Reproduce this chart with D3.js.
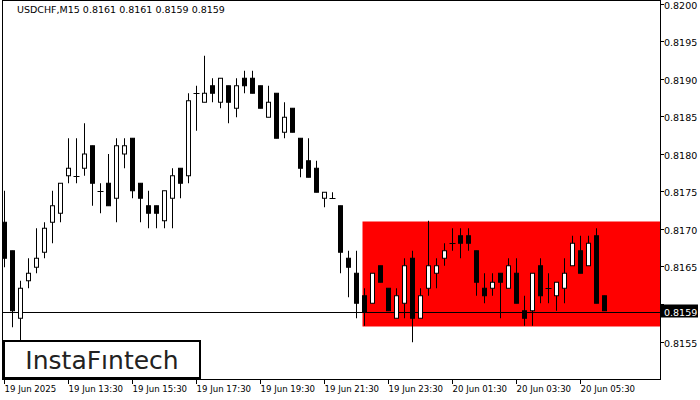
<!DOCTYPE html>
<html>
<head>
<meta charset="utf-8">
<script src="https://cdn.jsdelivr.net/npm/d3@7"></script>
<style>
  body { margin: 0; background: #fff; }
  text { font-family: "DejaVu Sans", sans-serif; }
</style>
</head>
<body>
<svg id="chart" width="700" height="400"></svg>
<script>
// candles, M15, starting 19 Jun 2025 11:30
const opens = [.81709,.81671,.81581,.81631,.81649,.81669,.81709,.81721,.81771,.81771,.81781,.81811,.81751,.81761,.81741,.81800,.81821,.81761,.81731,.81731,
  .81711,.81741,.81781,.81771,.81881,.81869,.81891,.81869,.81891,.81861,.81901,.81901,.81891,.81849,.81881,.81829,.81861,.81821,.81791,.81781,
  .81741,.81741,.81731,.81661,.81641,.81611,.81601,.81651,.81621,.81581,.81601,.81661,.81581,.81621,.81641,.81661,.81681,.81691,.81691,.81671,
  .81621,.81621,.81641,.81621,.81641,.81591,.81591,.81651,.81621,.81611,.81621,.81651,.81671,.81651,.81691,.81611];
const highs = [.81751,.81671,.81631,.81661,.81701,.81709,.81751,.81761,.81821,.81821,.81841,.81811,.81761,.81800,.81821,.81821,.81821,.81761,.81751,.81731,
  .81751,.81781,.81781,.81881,.81891,.81931,.81901,.81901,.81891,.81901,.81911,.81911,.81891,.81891,.81881,.81869,.81861,.81821,.81821,.81791,
  .81749,.81749,.81731,.81671,.81671,.81621,.81641,.81651,.81621,.81621,.81661,.81671,.81621,.81711,.81661,.81681,.81701,.81701,.81701,.81671,
  .81641,.81641,.81641,.81661,.81661,.81611,.81641,.81661,.81641,.81629,.81661,.81691,.81691,.81691,.81701,.81611];
const lows = [.81649,.81569,.81552,.81621,.81641,.81661,.81681,.81709,.81761,.81761,.81771,.81731,.81721,.81731,.81709,.81781,.81741,.81709,.81701,.81701,
  .81701,.81701,.81741,.81761,.81831,.81869,.81869,.81861,.81841,.81849,.81881,.81881,.81861,.81849,.81821,.81821,.81829,.81769,.81769,.81749,
  .81729,.81741,.81641,.81609,.81581,.81571,.81601,.81629,.81591,.81581,.81581,.81549,.81581,.81611,.81621,.81651,.81671,.81661,.81671,.81611,
  .81601,.81611,.81581,.81621,.81601,.81571,.81571,.81601,.81601,.81591,.81601,.81651,.81641,.81651,.81601,.81591];
const closes = [.81661,.81591,.81621,.81641,.81661,.81701,.81731,.81761,.81781,.81771,.81800,.81761,.81751,.81731,.81811,.81811,.81751,.81741,.81721,.81721,
  .81751,.81771,.81761,.81871,.81881,.81881,.81881,.81901,.81869,.81891,.81891,.81881,.81861,.81869,.81821,.81849,.81829,.81781,.81769,.81749,
  .81749,.81741,.81669,.81649,.81601,.81589,.81641,.81629,.81591,.81611,.81651,.81581,.81611,.81651,.81651,.81671,.81681,.81681,.81681,.81629,
  .81611,.81629,.81629,.81651,.81601,.81581,.81641,.81611,.81621,.81629,.81641,.81681,.81641,.81681,.81601,.81591];
const priceTicks = [0.8155, 0.8160, 0.8165, 0.8170, 0.8175, 0.8180, 0.8185, 0.8190, 0.8195, 0.8200];
const timeLabels = ["19 Jun 2025", "19 Jun 13:30", "19 Jun 15:30", "19 Jun 17:30", "19 Jun 19:30",
  "19 Jun 21:30", "19 Jun 23:30", "20 Jun 01:30", "20 Jun 03:30", "20 Jun 05:30"];
const rectStart = 45, rectTop = 0.81710, rectBottom = 0.81570;
const lastPrice = 0.8159;

const svg = d3.select("#chart");
const plotLeft = 2, plotRight = 660, plotTop = 0, plotBottom = 379;

const x = d3.scaleLinear().domain([0, 1]).range([3.5, 11.5]);
const y = d3.scaleLinear().domain([0.8155, 0.8200]).range([341.5, 4]);

// rectangle pattern
svg.append("rect")
  .attr("x", x(rectStart) - 1).attr("y", y(rectTop))
  .attr("width", plotRight - x(rectStart) + 1).attr("height", y(rectBottom) - y(rectTop))
  .attr("fill", "#ff0000");

// last price line
svg.append("line").attr("x1", plotLeft).attr("x2", plotRight)
  .attr("y1", Math.round(y(lastPrice)) + 0.5).attr("y2", Math.round(y(lastPrice)) + 0.5)
  .attr("stroke", "#000");

const g = svg.append("g");
opens.forEach((o, i) => {
  const c = closes[i];
  const cx = Math.round(x(i)) + 0.5;
  g.append("line").attr("x1", cx).attr("x2", cx)
    .attr("y1", y(highs[i])).attr("y2", y(lows[i])).attr("stroke", "#000");
  const y0 = y(Math.max(o, c)), y1 = y(Math.min(o, c));
  if (Math.abs(y1 - y0) < 1) {
    g.append("line").attr("x1", cx - 3).attr("x2", cx + 3)
      .attr("y1", Math.round(y0) + 0.5).attr("y2", Math.round(y0) + 0.5).attr("stroke", "#000");
  } else {
    g.append("rect").attr("x", cx - 2).attr("y", y0)
      .attr("width", 4).attr("height", y1 - y0)
      .attr("fill", c >= o ? "#fff" : "#000").attr("stroke", "#000");
  }
});

// frame
svg.append("rect").attr("x", plotLeft + 0.5).attr("y", plotTop + 0.5)
  .attr("width", plotRight - plotLeft).attr("height", plotBottom - plotTop)
  .attr("fill", "none").attr("stroke", "#000");

// price axis
priceTicks.forEach(p => {
  const py = Math.round(y(p)) + 0.5;
  svg.append("line").attr("x1", plotRight).attr("x2", plotRight + 4).attr("y1", py).attr("y2", py).attr("stroke", "#000");
  if (Math.abs(p - lastPrice) > 0.0002)
    svg.append("text").attr("x", 664).attr("y", py + 4).attr("font-size", 9.5).attr("fill", "#000")
      .text(p.toFixed(4));
});
svg.append("rect").attr("x", 661).attr("y", y(lastPrice) - 7).attr("width", 37).attr("height", 13).attr("fill", "#000");
svg.append("text").attr("x", 664).attr("y", y(lastPrice) + 4).attr("font-size", 9.5).attr("fill", "#fff")
  .text(lastPrice.toFixed(4));

// time axis
timeLabels.forEach((t, k) => {
  const tx = Math.round(x(k * 8)) + 0.5;
  svg.append("line").attr("x1", tx).attr("x2", tx).attr("y1", plotBottom).attr("y2", plotBottom + 5).attr("stroke", "#000");
  svg.append("text").attr("x", tx).attr("y", 392).attr("font-size", 8.6).attr("fill", "#000").text(t);
});

// title
svg.append("text").attr("x", 17).attr("y", 13).attr("font-size", 9.5).attr("fill", "#000")
  .text("USDCHF,M15  0.8161 0.8161 0.8159 0.8159");

// logo
svg.append("rect").attr("x", 4).attr("y", 341).attr("width", 196).attr("height", 37)
  .attr("fill", "#fff").attr("stroke", "#000").attr("stroke-width", 2);
svg.append("text").attr("x", 102).attr("y", 369).attr("text-anchor", "middle")
  .attr("font-family", "Lato, sans-serif").attr("font-weight", 500).attr("font-size", 25).attr("fill", "#222")
  .text("InstaFıntech");
</script>
</body>
</html>
